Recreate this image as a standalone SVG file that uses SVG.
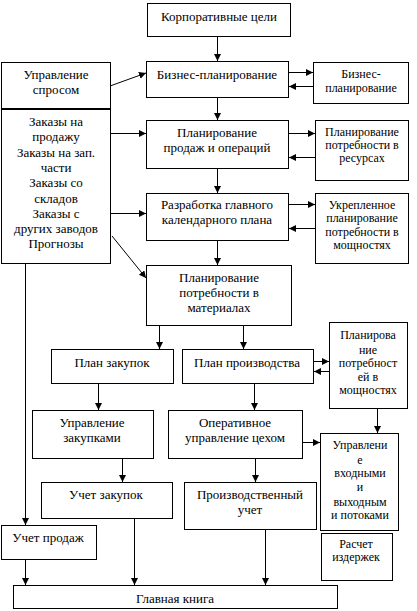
<svg xmlns="http://www.w3.org/2000/svg" width="417" height="611" viewBox="0 0 417 611">
<style>
rect{fill:#fff;stroke:#000;stroke-width:1}
text{font-family:"Liberation Serif","Times New Roman",serif;font-size:13px;fill:#000;text-anchor:middle}
text.s{font-size:12px}
#connectors line{stroke:#000;stroke-width:1;marker-end:url(#ah)}
</style>
<defs>
<marker id="ah" markerUnits="userSpaceOnUse" markerWidth="8" markerHeight="8" refX="7" refY="3.5" orient="auto">
<path d="M0,0 L7,3.5 L0,7 z" fill="#000"/>
</marker>
</defs>
<rect x="0" y="0" width="417" height="611" style="stroke:none"/>
<g id="n-corp"><rect x="147.5" y="3.5" width="143" height="33"/><text x="219" y="21">Корпоративные цели</text></g>
<g id="n-demand"><rect x="1.5" y="62.5" width="109" height="46"/><text x="56" y="79">Управление</text><text x="56" y="94">спросом</text></g>
<g id="n-orders"><rect x="1.5" y="109.5" width="109" height="154"/>
<text x="56" y="126">Заказы на</text><text x="56" y="141">продажу</text><text x="56" y="157">Заказы на зап.</text><text x="56" y="172">части</text><text x="56" y="187">Заказы со</text><text x="56" y="203">складов</text><text x="56" y="218">Заказы с</text><text x="56" y="233">других заводов</text><text x="56" y="248">Прогнозы</text></g>
<g id="n-bp"><rect x="146.5" y="61.5" width="142" height="36"/><text x="217" y="79">Бизнес-планирование</text></g>
<g id="n-bp2"><rect x="313.5" y="62.5" width="95" height="41"/><text class="s" x="361" y="78">Бизнес-</text><text class="s" x="361" y="92">планирование</text></g>
<g id="n-sop"><rect x="146.5" y="120.5" width="142" height="48"/><text x="217" y="137">Планирование</text><text x="217" y="152">продаж и операций</text></g>
<g id="n-rrp"><rect x="315.5" y="120.5" width="93" height="60"/><text class="s" x="362" y="136">Планирование</text><text class="s" x="362" y="149">потребности в</text><text class="s" x="362" y="162">ресурсах</text></g>
<g id="n-mps"><rect x="146.5" y="193.5" width="142" height="47"/><text x="217" y="209">Разработка главного</text><text x="217" y="224">календарного плана</text></g>
<g id="n-rccp"><rect x="315.5" y="193.5" width="93" height="70"/><text class="s" x="362" y="209">Укрепленное</text><text class="s" x="362" y="222">планирование</text><text class="s" x="362" y="236">потребности в</text><text class="s" x="362" y="249">мощностях</text></g>
<g id="n-mrp"><rect x="146.5" y="265.5" width="145" height="60"/><text x="219" y="282">Планирование</text><text x="219" y="297">потребности в</text><text x="219" y="312">материалах</text></g>
<g id="n-purch-plan"><rect x="51.5" y="349.5" width="122" height="34"/><text x="112" y="367">План закупок</text></g>
<g id="n-prod-plan"><rect x="182.5" y="349.5" width="131" height="34"/><text x="247" y="367">План производства</text></g>
<g id="n-crp"><rect x="329.5" y="322.5" width="78" height="86"/><text class="s" x="368" y="339">Планирова</text><text class="s" x="368" y="354">ние</text><text class="s" x="368" y="367">потребност</text><text class="s" x="368" y="381">ей в</text><text class="s" x="368" y="394">мощностях</text></g>
<g id="n-purch-mgmt"><rect x="32.5" y="410.5" width="121" height="48"/><text x="92" y="427">Управление</text><text x="92" y="442">закупками</text></g>
<g id="n-shop"><rect x="168.5" y="410.5" width="134" height="48"/><text x="235" y="427">Оперативное</text><text x="235" y="442">управление цехом</text></g>
<g id="n-io"><rect x="320.5" y="433.5" width="78" height="97"/><text class="s" x="360" y="449">Управлени</text><text class="s" x="360" y="464">е</text><text class="s" x="360" y="477">входными</text><text class="s" x="360" y="491">и</text><text class="s" x="360" y="506">выходным</text><text class="s" x="360" y="519">и потоками</text></g>
<g id="n-purch-acc"><rect x="41.5" y="482.5" width="131" height="36"/><text x="106" y="499">Учет закупок</text></g>
<g id="n-prod-acc"><rect x="184.5" y="482.5" width="132" height="47"/><text x="250" y="499">Производственный</text><text x="250" y="514">учет</text></g>
<g id="n-sales-acc"><rect x="1.5" y="525.5" width="95" height="34"/><text x="48" y="542">Учет продаж</text></g>
<g id="n-cost"><rect x="321.5" y="533.5" width="71" height="47"/><text class="s" x="356" y="548">Расчет</text><text class="s" x="356" y="561">издержек</text></g>
<g id="n-ledger"><rect x="13.5" y="585.5" width="324" height="23"/><text x="175" y="603">Главная книга</text></g>
<g id="connectors">
<line x1="217.5" y1="37" x2="217.5" y2="61"/>
<line x1="110" y1="86" x2="146" y2="73"/>
<line x1="289" y1="72.5" x2="313" y2="72.5"/>
<line x1="313" y1="86.5" x2="289" y2="86.5"/>
<line x1="217.5" y1="98" x2="217.5" y2="120"/>
<line x1="111" y1="133.5" x2="146" y2="133.5"/>
<line x1="289" y1="133.5" x2="315" y2="133.5"/>
<line x1="315" y1="157.5" x2="289" y2="157.5"/>
<line x1="217.5" y1="169" x2="217.5" y2="193"/>
<line x1="111" y1="213.5" x2="146" y2="213.5"/>
<line x1="289" y1="204.5" x2="315" y2="204.5"/>
<line x1="315" y1="228.5" x2="289" y2="228.5"/>
<line x1="217.5" y1="241" x2="217.5" y2="265"/>
<line x1="112" y1="236" x2="146" y2="278"/>
<line x1="25.5" y1="264" x2="25.5" y2="525"/>
<line x1="159.5" y1="326" x2="159.5" y2="349"/>
<line x1="243.5" y1="326" x2="243.5" y2="349"/>
<line x1="314" y1="361.5" x2="329" y2="361.5"/>
<line x1="329" y1="371.5" x2="314" y2="371.5"/>
<line x1="98.5" y1="384" x2="98.5" y2="410"/>
<line x1="254.5" y1="384" x2="254.5" y2="410"/>
<line x1="377.5" y1="409" x2="377.5" y2="433"/>
<line x1="303" y1="442.5" x2="320" y2="442.5"/>
<line x1="122.5" y1="459" x2="122.5" y2="482"/>
<line x1="255.5" y1="459" x2="255.5" y2="482"/>
<line x1="25.5" y1="560" x2="25.5" y2="585"/>
<line x1="134.5" y1="519" x2="134.5" y2="585"/>
<line x1="265.5" y1="530" x2="265.5" y2="585"/>
</g>
</svg>
